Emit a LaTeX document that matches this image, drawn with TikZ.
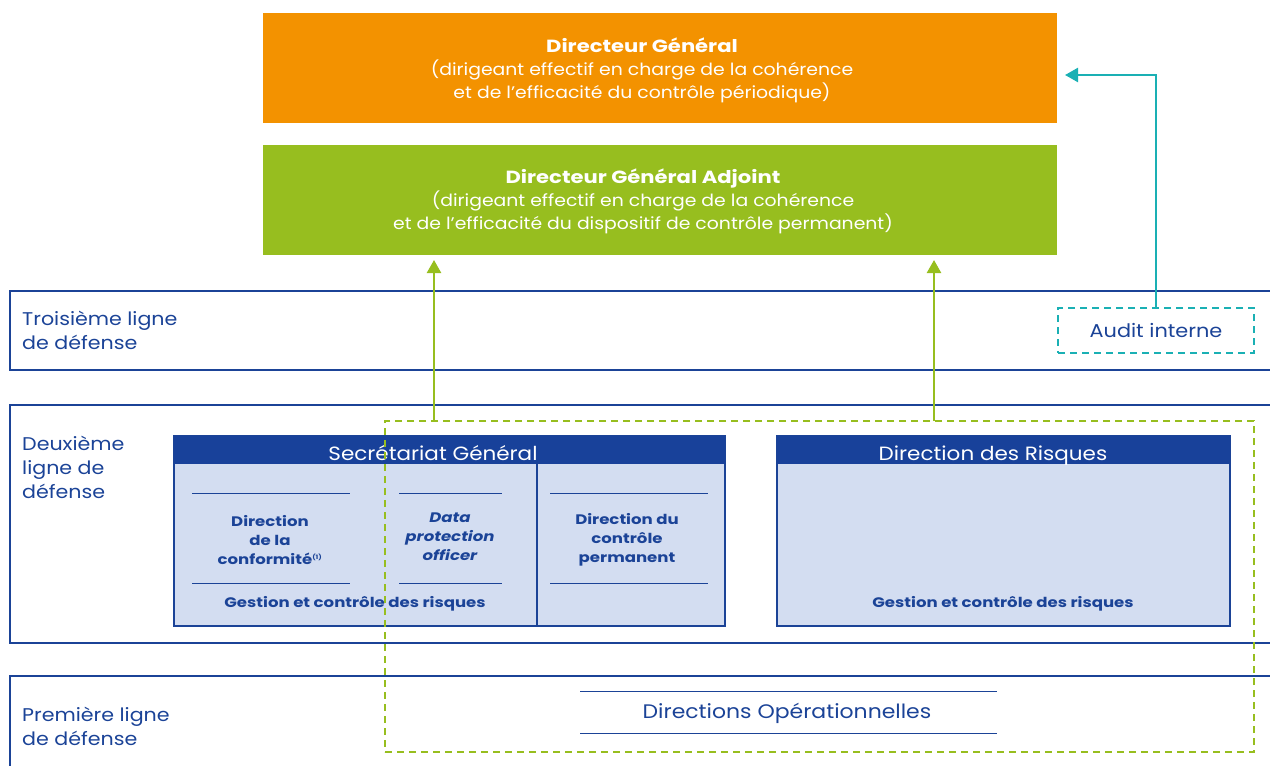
\documentclass[tikz,border=0pt]{standalone}
\usepackage{fontspec}
\setmainfont{Poppins}[FakeStretch=1.12, BoldFeatures={FakeStretch=1.2}, BoldItalicFeatures={FakeStretch=1.2}]
\usetikzlibrary{arrows.meta,calc}
\definecolor{navy}{HTML}{1B4397}
\definecolor{hdr}{HTML}{18419A}
\definecolor{lightb}{HTML}{D3DDF1}
\definecolor{orangeb}{HTML}{F39200}
\definecolor{greenb}{HTML}{97BE1F}
\definecolor{teal}{HTML}{1AB0B4}
\tikzset{
  plain/.style={inner sep=0pt, outer sep=0pt, anchor=north west},
  band/.style={plain, draw=navy, line width=2.4pt},
  toptxt/.style={text=white, align=center, font=\fontsize{16.8}{23}\selectfont},
  lbl/.style={text=navy, align=left, anchor=west, inner sep=0pt, font=\fontsize{18.4}{24}\selectfont},
  hdrtxt/.style={text=white, anchor=base, inner sep=0pt, font=\fontsize{19.2}{24}\selectfont},
  subtxt/.style={text=navy, align=center, font=\fontsize{13.8}{19.2}\selectfont\bfseries},
  sepline/.style={navy, line width=1pt},
  greenarrow/.style={greenb, line width=2.4pt, -{Triangle[width=14pt,length=13pt]}},
  tealarrow/.style={teal, line width=2.4pt, -{Triangle[width=14pt,length=13pt]}},
}
\newcommand{\toptitle}[1]{{\fontsize{17.6}{23}\selectfont\bfseries #1}}
\begin{document}
\begin{tikzpicture}[x=1pt,y=-1pt]
\useasboundingbox (0,0) rectangle (1270,766);
\clip (0,0) rectangle (1270,766);

% top boxes
\node[plain, fill=orangeb, minimum width=794pt, minimum height=110pt] (dg) at (263,13) {};
\node[toptxt] (dgt) at (642,70) {\toptitle{Directeur Général}\\(dirigeant effectif en charge de la cohérence\\et de l’efficacité du contrôle périodique)};
\node[plain, fill=greenb, minimum width=794pt, minimum height=110pt] (dga) at (263,145) {};
\node[toptxt] (dgat) at (643,201) {\toptitle{Directeur Général Adjoint}\\(dirigeant effectif en charge de la cohérence\\et de l’efficacité du dispositif de contrôle permanent)};

% bands
\node[band, minimum width=1300pt, minimum height=79pt] (b3) at (10,291) {};
\node[band, minimum width=1300pt, minimum height=238pt] (b2) at (10,405) {};
\node[band, minimum width=1300pt, minimum height=130pt] (b1) at (10,676) {};
\node[lbl] (l3) at (22,330) {Troisième ligne\\de défense};
\node[lbl] (l2) at (22,467) {Deuxième\\ligne de\\défense};
\node[lbl] (l1) at (22,726) {Première ligne\\de défense};

% audit interne
\node[plain, draw=teal, dashed, dash pattern=on 7pt off 5pt, line width=2.2pt, minimum width=196pt, minimum height=45pt] (audit) at (1058,308) {};
\node[text=navy, font=\fontsize{18.6}{22}\selectfont] (auditt) at (1156,331) {Audit interne};

% Secretariat General
\node[plain, fill=lightb, draw=navy, line width=1.4pt, minimum width=551pt, minimum height=190pt] (sg) at (174,436) {};
\node[plain, fill=hdr, minimum width=551pt, minimum height=28pt] (sgh) at (174,436) {};
\node[hdrtxt] (sgt) at (433,460) {Secrétariat Général};
\coordinate (sgdiv) at (537,464);
\draw[navy, line width=1.4pt] (sgdiv) -- (sgdiv |- sg.south);
\draw[sepline] (192,493) -- (350,493);
\draw[sepline] (192,583) -- (350,583);
\draw[sepline] (399,493) -- (502,493);
\draw[sepline] (399,583) -- (502,583);
\draw[sepline] (550,493) -- (708,493);
\draw[sepline] (550,583) -- (708,583);
\node[subtxt] (conf) at (270,540) {Direction\\de la\\conformité\textsuperscript{\fontsize{6}{6}\selectfont(1)}};
\node[subtxt, font=\fontsize{13.8}{19.2}\selectfont\bfseries\itshape] (dpo) at (450,537) {Data\\protection\\officer};
\node[subtxt] (dcp) at (627,540) {Direction du\\contrôle\\permanent};
\node[subtxt] (gcr1) at (355,604) {Gestion et contrôle des risques};

% Direction des Risques
\node[plain, fill=lightb, draw=navy, line width=1.4pt, minimum width=453pt, minimum height=190pt] (dr) at (777,436) {};
\node[plain, fill=hdr, minimum width=453pt, minimum height=28pt] (drh) at (777,436) {};
\node[hdrtxt] (drt) at (993,460) {Direction des Risques};
\node[subtxt] (gcr2) at (1003,604) {Gestion et contrôle des risques};

% Directions operationnelles
\draw[sepline] (580,691) -- (997,691);
\draw[sepline] (580,733) -- (997,733);
\node[text=navy, font=\fontsize{19.6}{24}\selectfont] (dop) at (787,713) {Directions Opérationnelles};

% green dashed perimeter
\node[plain, draw=greenb, dashed, dash pattern=on 7pt off 5pt, line width=2.4pt, minimum width=869pt, minimum height=331pt] (perim) at (385,421) {};

% arrows
\coordinate (g1) at (434,421);
\coordinate (g2) at (934,421);
\draw[greenarrow, shorten >=5pt] (g1) -- (g1 |- dga.south);
\draw[greenarrow, shorten >=5pt] (g2) -- (g2 |- dga.south);
\coordinate (tend) at ($(dg.east)+(8,7)$);
\draw[tealarrow] (audit.north) |- (tend);
\end{tikzpicture}
\end{document}
